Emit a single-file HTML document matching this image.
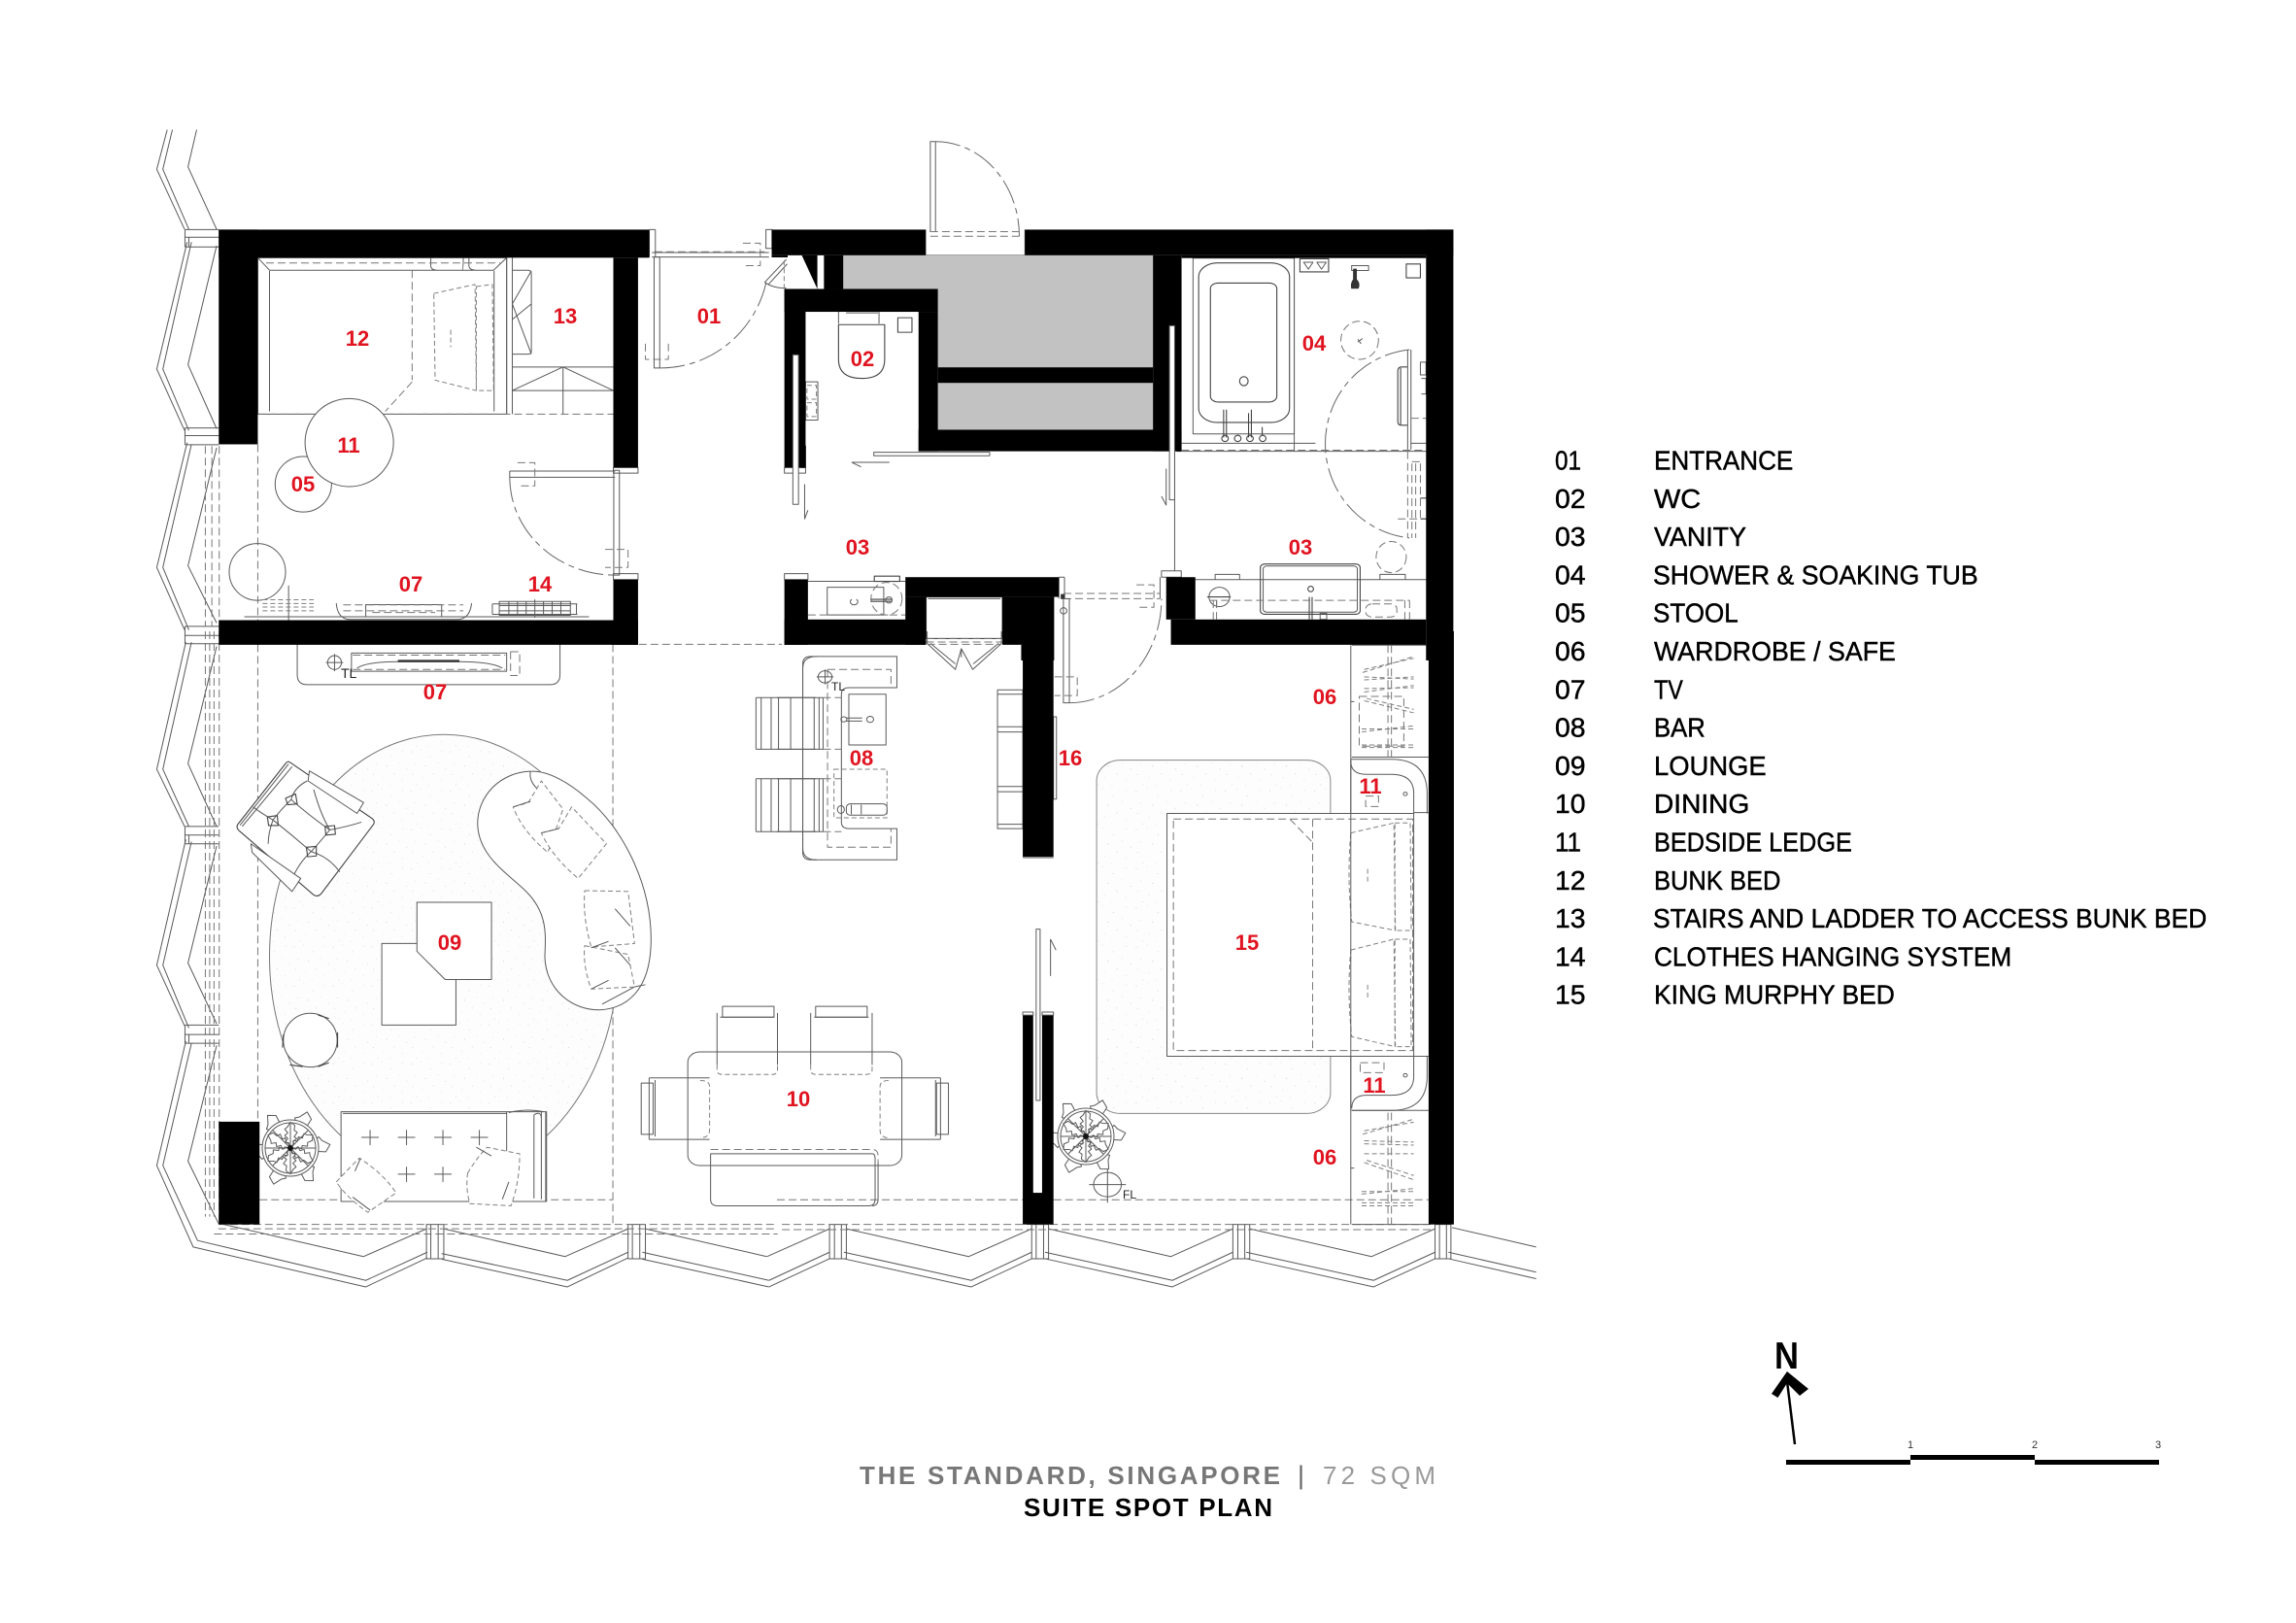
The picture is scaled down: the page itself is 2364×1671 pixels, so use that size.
<!DOCTYPE html>
<html><head><meta charset="utf-8"><title>Suite Spot Plan</title>
<style>
html,body{margin:0;padding:0;background:#fff}
svg{display:block}
svg *{vector-effect:non-scaling-stroke}
.l{fill:none;stroke:#5a5a5a;stroke-width:1;stroke-linejoin:round}
.t{stroke-width:1.1;stroke:#444}
.d{stroke-dasharray:8 4;stroke:#777}
.s{stroke-dasharray:5 3;stroke:#808080}
.a{stroke-dasharray:26 5 6 5;stroke:#666}
.w{fill:#fff}
.f{fill:#333;stroke:#333}
.k{fill:#000;stroke:none}
.g{fill:#c2c2c2;stroke:none}
.n{font:bold 22px "Liberation Sans",sans-serif;fill:#e01420;text-anchor:middle}
.lg{font:28px "Liberation Sans",sans-serif;fill:#000;stroke:#000;stroke-width:.45}
</style></head><body>
<svg width="2364" height="1671" viewBox="0 0 2364 1671" xmlns="http://www.w3.org/2000/svg">
<defs>
<pattern id="sp" width="90" height="90" patternUnits="userSpaceOnUse">
<rect width="90" height="90" fill="#fdfdfd"/>
<g fill="#cfcfcf"><circle cx="5" cy="8" r="1.1"/><circle cx="27" cy="3" r=".9"/><circle cx="49" cy="19" r="1.1"/><circle cx="75" cy="6" r=".9"/><circle cx="14" cy="36" r=".9"/><circle cx="38" cy="41" r="1.2"/><circle cx="67" cy="33" r=".9"/><circle cx="84" cy="48" r="1.1"/><circle cx="8" cy="60" r="1.1"/><circle cx="31" cy="68" r=".9"/><circle cx="56" cy="59" r="1.1"/><circle cx="74" cy="74" r=".9"/><circle cx="18" cy="84" r="1"/><circle cx="46" cy="85" r=".9"/></g>
</pattern>
<path id="leaf" d="M0 0L6-7 4-10 10-15 6-18 11-25 6-28 7-36 0-41-5-33-9-30-4-24-9-20-4-15-8-10-3-7Z"/>
<g id="plant">
<g class="l w"><use href="#leaf" transform="rotate(25)"/><use href="#leaf" transform="rotate(85)"/><use href="#leaf" transform="rotate(145)"/><use href="#leaf" transform="rotate(205)"/><use href="#leaf" transform="rotate(265)"/><use href="#leaf" transform="rotate(325)"/></g>
<circle r="29" class="l w"/><circle r="26" class="l"/>
<path class="l" d="M-26 0H26M0-26V26M-18-18L18 18M-18 18L18-18"/>
<g class="l" transform="scale(.65)"><use href="#leaf" transform="rotate(0)"/><use href="#leaf" transform="rotate(60)"/><use href="#leaf" transform="rotate(120)"/><use href="#leaf" transform="rotate(180)"/><use href="#leaf" transform="rotate(240)"/><use href="#leaf" transform="rotate(300)"/></g>
<circle r="3" fill="#111"/>
</g>
</defs>

<rect width="2364" height="1671" fill="#fff"/>

<!-- Z1 : bunk room / upper facade -->
<g transform="translate(140,120) scale(.4464,.3571)">
<g class="l">
<path d="M72 38L48 152 112 325M84 38L62 152 122 325M140 38L120 145 186 325"/>
<path d="M113 326H191M113 348H191M113 376H191M113 326V376M122 348V376"/>
<path d="M118 362L48 728 112 905M128 362L62 728 122 905M186 372L120 715 186 900"/>
<path d="M113 898H191M113 920H191M113 946H191M113 898V946"/>
<path d="M118 940L48 1300 112 1480M128 945L62 1300 122 1480M186 955L120 1295 186 1460"/>
<path d="M113 1470H191M113 1496H191M113 1520H191M113 1470V1520"/>
<path class="d" d="M160 950V1470M175 950V1470M192 950V1452M281 945V1452"/>
<rect x="281" y="407" width="574" height="451"/>
<path d="M308 445V850M308 443H825M826 445V850M855 407V858M868 407V858M281 407L308 443M855 407L825 443M680 407V430Q680 443 695 443M752 443Q755 443 755 407M768 407V430Q768 443 785 443"/>
<path class="d" d="M300 422H840M637 443V760M637 765L575 850M281 858H1101"/>
<path class="s" d="M687 510L782 484 785 790 690 760ZM785 490L822 484 825 790 785 790ZM726 615V665"/>
<path d="M868 443H905Q912 443 912 455V675Q912 685 905 685H868M912 445L868 540 912 685M868 585L912 540M868 722H1101M868 790H1101M985 722V858M868 790L985 722 1101 790"/>
<ellipse cx="386" cy="1060" rx="65" ry="80"/>
<ellipse cx="492" cy="940" rx="102" ry="127" class="w"/>
<ellipse cx="280" cy="1313" rx="65" ry="82"/>
<rect x="1195" y="405" width="13" height="320"/>
<path d="M1190 405H1460M1190 392H1460"/>
<path class="a" d="M1208 725A250 320 0 0 0 1455 470"/>
<path class="d" d="M1196 390H1450M1400 365H1440V430H1400M1175 655V700H1228V655"/>
<path d="M1184 326V405M1198 326V405M1184 326H1198M1453 326V380H1467V326ZM1450 478L1500 412M1458 485L1502 425M1450 478Q1470 495 1500 495"/>
<path class="s" d="M1495 415V495"/>
<path d="M862 1022H1105M862 1040H1105M862 1022V1040"/>
<rect x="1102" y="1020" width="13" height="302"/>
<path class="a" d="M862 1040A243 282 0 0 0 1105 1322"/>
<path class="d" d="M880 998H920V1065H880M1082 1248H1135V1300H1082"/>
<path d="M1101 1012H1158V1028H1101ZM1101 1318H1158V1335H1101Z"/>
<path d="M250 1442H1045"/>
<path d="M462 1403Q465 1450 495 1450H740Q770 1450 774 1403"/>
<rect x="530" y="1407" width="175" height="35"/>
<path class="d" d="M478 1408H755M478 1425H755M545 1430H690"/>
<path d="M352 1352V1452"/>
<path class="s" d="M292 1393H410M292 1404H410M292 1414H410M292 1425H410"/>
<rect x="838" y="1398" width="164" height="40"/>
<path d="M822 1405H1018M822 1435H1018M822 1405V1435M1016 1405V1435M838 1410H1002M838 1425H1002M860 1398V1438M880 1398V1438M900 1398V1438M920 1392V1445M940 1398V1438M960 1398V1438M980 1398V1438"/>
</g>
</g>

<!-- Z2 : WC, shafts, bathroom -->
<g transform="translate(780,120) scale(.4847,.3571)">
<g class="l">
<path class="a" d="M378 72A178 273 0 0 1 556 345"/>
<rect x="367" y="72" width="11" height="260"/>
<path d="M357 326V400M568 326V400M357 400H568"/>
<path class="d" d="M367 332H556M367 345H556"/>
<rect x="298" y="580" width="30" height="42" class="t"/>
<path class="t" d="M172 600H270V700Q270 755 222 755 172 755 172 700Z"/>
<path d="M172 563V597M258 563V597M188 566H256"/>
<rect x="102" y="765" width="26" height="110"/>
<path class="s" d="M105 775H125V815H105ZM105 825H125V865H105Z"/>
<rect x="247" y="968" width="246" height="10"/>
<path d="M200 997H280M200 997L220 1010M100 1060V1160L107 1135M57 1012H102V1028H57Z"/>
<path class="f" d="M92 950H102V1012H92Z"/>
<rect x="925" y="408" width="215" height="507"/>
<path d="M1140 408V965M900 408V965M900 942H1185M890 965H1420M1388 942H1420"/>
<path class="d" d="M900 962H1420"/>
<rect x="937" y="422" width="193" height="460" rx="40" class="t"/>
<rect x="962" y="480" width="141" height="343" rx="16" class="t"/>
<ellipse cx="1033" cy="763" rx="9" ry="13" class="t"/>
<path class="t" d="M990 845V925M996 845V925M1043 855V925M1049 845V925M1072 895V920"/>
<g class="t"><ellipse cx="993" cy="928" rx="7" ry="9"/><ellipse cx="1020" cy="928" rx="7" ry="9"/><ellipse cx="1046" cy="928" rx="7" ry="9"/><ellipse cx="1073" cy="928" rx="7" ry="9"/></g>
<rect x="1152" y="410" width="61" height="38" class="t"/>
<path d="M1160 420L1170 440 1180 420ZM1188 420L1198 440 1208 420Z"/>
<rect x="1262" y="430" width="36" height="14"/>
<path class="f" d="M1262 495Q1260 480 1266 470V440H1272V470Q1280 480 1276 495Z"/>
<rect x="1378" y="425" width="30" height="40" class="t"/>
<ellipse cx="1279" cy="645" rx="40" ry="55" class="d"/>
<path d="M1275 650L1285 640M1275 642L1282 655"/>
<path class="a" d="M1385 672A200 273 0 0 0 1385 1215"/>
<path d="M1381 672V960M1388 672V960"/>
<path class="t" d="M1380 722H1368Q1360 722 1360 735V880Q1360 890 1368 890H1380M1366 725V888"/>
<path d="M1408 708H1420V745H1408ZM1410 755H1420V800H1410"/>
<path class="d" d="M1388 870H1420M1381 965V1215M1390 1000V1215M1398 1000V1215M1408 1000V1160M1390 995H1408M1360 1160H1420"/>
<path class="t" d="M1408 1100H1420M1408 1160H1420"/>
<path d="M930 1335H1420M972 1320H1024V1335H972ZM1322 1320H1376V1335H1322Z"/>
<rect x="1068" y="1290" width="212" height="145" rx="10" class="t"/>
<rect x="1074" y="1296" width="200" height="133" rx="8"/>
<ellipse cx="1346" cy="1270" rx="32" ry="45" class="d"/>
<ellipse cx="981" cy="1385" rx="22" ry="28"/>
<path class="t" d="M955 1385H1005M975 1395V1410"/>
<ellipse cx="1175" cy="1362" rx="6" ry="8" class="t"/>
<path class="t" d="M1172 1385V1450M1178 1385V1450"/>
<path class="d" d="M960 1395H1385M968 1395V1450M975 1395V1450M1375 1395V1450M1385 1395V1450"/>
<rect x="1292" y="1405" width="66" height="38" rx="14" class="d"/>
<rect x="1195" y="1432" width="14" height="18"/>
<path d="M107 1340H314"/>
<rect x="148" y="1357" width="120" height="80"/>
<ellipse cx="274" cy="1390" rx="33" ry="47" class="d"/>
<path class="t" d="M240 1392H285M240 1398H285"/><ellipse cx="279" cy="1394" rx="7" ry="9"/>
<path d="M200 1392a8 9 0 1 0 10 0"/>
<rect x="248" y="1325" width="54" height="15" class="t"/>
<path class="d" d="M107 1437H314"/>
<path d="M57 1318H107V1335H57Z"/>
<rect x="358" y="1385" width="162" height="120" class="t"/>
<path d="M362 1390H516"/>
<path class="d" d="M358 1505H520M358 1515H520"/>
<path d="M640 1328V1390M652 1328V1390M640 1328H652"/>
<path class="d" d="M650 1375H855M650 1390H855M805 1350H842V1415H805"/>
<path class="f" d="M645 1378H652V1390H645Z"/>
<ellipse cx="650" cy="1425" rx="7" ry="9"/>
<path d="M858 1310H900V1328H858ZM855 1328V1390M886 965V1310M868 1015V1120L858 1095M860 960H900"/>
</g>
</g>

<!-- Z3 : lounge -->
<g transform="translate(140,650) scale(.4464)">
<ellipse cx="710" cy="750" rx="402" ry="512" fill="url(#sp)" stroke="#777"/>
<g class="l">
<path d="M115 25L48 318 112 450M128 25L62 318 122 450M186 35L120 305 186 450"/>
<path d="M113 450H191M113 470H191M113 490H191M113 450V490M122 470V490"/>
<path d="M115 480L48 770 112 910M128 485L62 770 122 915M186 495L120 765 186 905"/>
<path d="M113 908H191M113 930H191M113 950H191M113 908V950M122 930V950"/>
<path d="M115 945L48 1232 132 1420 530 1512 672 1445M128 950L62 1232 142 1405 530 1497 672 1432M186 955L120 1222 190 1365 525 1442 670 1378"/>
<path d="M670 1368H710V1447H670ZM680 1368V1447M697 1368V1447"/>
<path d="M705 1435L995 1497 1135 1432M705 1448L995 1512 1135 1445M710 1378L990 1442 1135 1378"/>
<path d="M1135 1368H1175V1447H1135ZM1145 1368V1447M1162 1368V1447"/>
<path d="M1168 1432L1460 1497M1168 1448L1460 1512M1175 1378L1455 1442"/>
<path class="d" d="M160 0V1350M170 0V1350M180 0V1350M192 0V1365M281 30V1131M1100 30V1370M1160 30H1490M285 1311H1100M190 1368H1480M190 1378H1480M180 1390H1480"/>
<path d="M372 30V100Q372 123 395 123H955Q978 123 978 100V30"/>
<rect x="497" y="50" width="358" height="42"/>
<path class="d" d="M500 55H852M500 88H852M864 47H885V102H864Z"/>
<path d="M510 85Q530 70 610 70H745Q820 70 845 85"/>
<path class="f" d="M605 67H745V70H605Z"/>
<circle cx="458" cy="72" r="16"/><path d="M438 72H478M458 52V92"/>
<path d="M1430 153H1568M1430 272H1568M1430 340H1568M1430 462H1568M1430 153V272M1430 340V462M1442 153V272M1442 340V462M1465 153V272M1482 153V272M1510 153V272M1465 340V462M1482 340V462M1510 340V462"/>
<path d="M1570 58Q1538 58 1538 85V500Q1538 527 1570 527"/>
<path class="w t" d="M355 302Q350 298 345 305L235 445Q230 452 238 460L410 608Q420 614 428 604L548 445Q552 438 545 432Z"/>
<path d="M360 312L245 450M352 306L240 447"/>
<path class="w" d="M400 322L525 395 510 420 397 345Z"/>
<path class="w" d="M265 490L380 570 360 600 268 510Z"/>
<path d="M358 388Q400 425 447 458M316 435Q360 470 404 508M358 388Q335 410 316 435M447 458Q425 485 404 508M358 388Q365 360 395 345M447 458Q425 420 410 365M447 458Q490 450 520 440M404 508Q445 520 470 555M404 508Q380 530 365 560M316 435Q290 420 270 405M316 435Q305 465 305 490"/>
<path class="t" d="M345 385L368 375 372 398 350 400ZM303 428L326 425 328 448 306 448ZM436 450L458 448 460 468 438 470ZM393 498L416 496 416 518 396 520Z"/>
<path class="w" d="M910 323C840 325 787 380 788 445C790 520 860 560 900 600C950 650 945 700 943 750C945 830 1010 875 1070 873C1130 870 1188 830 1188 710C1188 580 1120 450 1040 385C1000 350 950 320 910 323Z"/>
<path d="M910 323Q905 350 935 370M1175 815L1150 820M1075 860L1150 820"/>
<path class="s w" d="M870 405L905 395 935 345 985 410 950 510Q890 460 870 405Z"/>
<path class="s w" d="M935 465L975 455 1005 405 1085 490 1020 570Q960 520 935 465Z"/>
<path class="s w" d="M1035 598L1135 600 1150 720 1050 728Q1030 660 1035 598Z"/>
<path class="s w" d="M1035 725L1135 745 1150 820 1050 825Q1030 770 1035 725Z"/>
<path d="M870 405L910 392M935 465L975 455M1105 640L1140 680M1050 730L1090 715M1050 825L1090 805M1105 730L1140 770"/>
<rect x="567" y="720" width="171" height="188" class="w"/>
<path class="w" d="M648 625H820V803H713L648 738Z"/>
<circle cx="402" cy="943" r="62" class="w"/>
<path class="t" d="M340 930L338 960M355 1000L385 1004M420 1004L445 995M465 960L465 925M420 885L445 893"/>
<rect x="473" y="1108" width="474" height="207" class="w"/>
<path d="M855 1108V1315M477 1112H855M935 1108V1310M918 1115V1308M918 1115Q935 1105 935 1125M945 1108V1315M860 1110Q900 1100 940 1108"/>
<path d="M520 1167H560M540 1150V1185M604 1167H644M624 1150V1185M688 1167H728M708 1150V1185M772 1167H812M792 1150V1185M604 1252H644M624 1235V1270M688 1252H728M708 1235V1270"/>
<path class="s w" d="M462 1270Q490 1240 515 1215Q570 1250 600 1295L535 1340Q490 1310 462 1270Z"/>
<path class="s w" d="M765 1250Q785 1215 810 1190L885 1205Q885 1270 865 1325L770 1320Q760 1285 765 1250Z"/>
<path d="M505 1245L518 1215M785 1190L820 1210M845 1310L860 1270M500 1305L540 1335"/>
</g>
</g>

<!-- Z4 : bar, bed, wardrobes, dining -->
<g transform="translate(800,650) scale(.5102,.4464)">
<g class="l">
<path d="M-16 1497L106 1432M-16 1512L106 1447M-20 1442L106 1378"/>
<path d="M106 1368H140V1447H106ZM116 1368V1447M130 1368V1447"/>
<path d="M135 1432L392 1497 514 1432M135 1447L392 1512 514 1447M140 1378L387 1442 514 1378"/>
<path d="M514 1368H548V1447H514ZM523 1368V1447M538 1368V1447"/>
<path d="M541 1432L798 1497 920 1432M541 1447L798 1512 920 1447M548 1378L795 1442 920 1378"/>
<path d="M920 1368H954V1447H920ZM930 1368V1447M944 1368V1447"/>
<path d="M947 1432L1204 1497 1328 1432M947 1447L1204 1512 1328 1447M954 1378L1200 1442 1328 1378"/>
<path d="M1328 1368H1360V1447H1328ZM1337 1368V1447M1351 1368V1447"/>
<path d="M1362 1375L1532 1420M1355 1432L1532 1478M1355 1447L1532 1493"/>
<path class="d" d="M10 1368H1328M10 1380H1328M0 1311H496M558 1311H1315"/>
<path d="M303 0V28L360 88 372 40 395 88 453 28V0"/>
<path d="M310 28L360 75M447 28L396 75M372 40V60"/>
<path class="d" d="M303 30H453"/>
<rect x="578" y="-75" width="12" height="240"/>
<path class="a" d="M590 165A186 240 0 0 0 776 -75"/>
<path class="d" d="M560 105H606V148H560"/>
<path d="M242 58H68Q52 58 52 75V510Q52 527 68 527H242V455H145Q130 455 130 440V145Q130 130 145 130H242Z"/>
<path class="d" d="M102 88H230V130M102 88V498H230V455"/>
<rect x="145" y="145" width="75" height="117"/>
<circle cx="135" cy="203" r="6"/><circle cx="188" cy="203" r="7"/>
<path d="M140 200H172M140 207H172"/>
<rect x="115" y="318" width="107" height="112" class="s"/>
<rect x="140" y="398" width="82" height="26" rx="8"/>
<ellipse cx="129" cy="411" rx="7" ry="9"/>
<path d="M150 400V422M170 400V422"/>
<circle cx="97" cy="105" r="14"/><path d="M80 105H114M97 88V122"/>
<path d="M0 153H93M0 272H93M0 340H93M0 462H93M93 153V272M93 340V462M75 153V272M75 340V462M85 153V272M85 340V462"/>
<path class="d" d="M93 153H130M93 272H130M93 340H130M93 462H130"/>
<rect x="445" y="135" width="51" height="320"/>
<path d="M445 145H496M445 220H496M445 232H496M445 358H496M445 370H496M445 445H496"/>
<rect x="558" y="197" width="6" height="190"/>
<path d="M552 710V795M552 710L563 735M496 522H558"/>

<rect x="645" y="297" width="472" height="815" rx="48" fill="url(#sp)" stroke="#888"/>
<rect x="787" y="420" width="498" height="560" class="w"/>
<path class="d" d="M800 433H1283V967H800ZM1081 433V967M1035 433L1081 487"/>
<path class="s w" d="M1158 465L1245 442 1248 690 1160 670Q1150 570 1158 465Z"/>
<path class="s" d="M1247 442H1278L1280 690H1247ZM1192 548V582"/>
<path class="s w" d="M1158 735L1245 710 1248 958 1160 935Q1150 835 1158 735Z"/>
<path class="s" d="M1247 710H1278L1280 958H1247ZM1192 815V850"/>

<path d="M1158 32V1368M1160 32H1315M1160 290H1315M1160 1105H1315M1160 1368H1315"/>
<path class="s" d="M1182 95L1285 58M1185 88L1285 62M1185 112L1285 105M1185 105L1285 110M1185 140L1285 125M1185 132L1285 130M1185 160L1285 188M1190 155L1285 180M1180 232L1285 218M1180 225L1285 225M1180 262L1285 262M1180 268H1285"/>
<path class="s" d="M1182 1160L1285 1125M1185 1152L1285 1132M1185 1175L1285 1178M1185 1182L1285 1185M1185 1205L1285 1205M1185 1225L1285 1265M1190 1220L1285 1255M1180 1298L1285 1285M1180 1292L1285 1292M1180 1325H1285M1180 1318H1285"/>
<path class="d" d="M1233 32V290M1240 32V290M1233 1110V1368M1240 1110V1368M1175 150H1265V265H1175Z"/>
<path d="M1158 162H1165M1158 1238H1165"/>
<path d="M1158 295H1240Q1310 295 1312 370V420M1158 300Q1158 330 1190 330H1240Q1283 330 1285 370V420"/>
<path d="M1158 295V420M1160 1105H1240Q1310 1105 1312 1030V980M1160 1100Q1160 1070 1190 1070H1240Q1283 1070 1285 1030V980M1158 980V1105"/>
<path d="M1285 418H1315M1285 980H1315"/>
<circle cx="1268" cy="375" r="4"/><circle cx="1268" cy="1024" r="4"/>
<path class="d" d="M1188 380H1214V404H1188ZM1177 995H1225V1018H1177Z"/>
<circle cx="667" cy="1276" r="28"/><path d="M630 1276H704M667 1235V1318"/>

<rect x="-180" y="970" width="432" height="262" rx="24"/>
<path d="M68 880V1000M192 880V1000M75 890H185M-121 880V1000M1 880V1000M-115 890H-5M208 1030H330M208 1172H330M330 1030V1172M320 1035V1165"/>
<rect x="78" y="865" width="104" height="25"/>
<rect x="-110" y="865" width="104" height="25"/>
<path class="s" d="M68 1000V1012Q68 1022 80 1022H180Q192 1022 192 1012V1000M-121 1000V1012Q-121 1022 -110 1022H-10Q1 1022 1 1012V1000M225 1036Q208 1036 208 1050V1150Q208 1168 225 1168"/>
<rect x="322" y="1042" width="24" height="118"/>
<path d="M-136 1030H-258M-136 1172H-258M-258 1030V1172M-246 1035V1165"/>
<rect x="-274" y="1042" width="24" height="118"/>
<path class="s" d="M-155 1036Q-136 1036 -136 1050V1150Q-136 1168 -155 1168"/>
<path class="d" d="M-134 1195H192Q204 1195 204 1210V1225"/>
<path d="M-134 1205H192Q198 1205 198 1215V1310Q198 1325 185 1325H-120Q-134 1325 -134 1310V1205ZM204 1225V1310Q204 1325 192 1325"/>
</g>
</g>

<use href="#plant" transform="translate(299,1182)"/>
<use href="#plant" transform="translate(1118,1170)"/>

<!-- WALLS -->
<g transform="translate(140,120) scale(.4464,.3571)" class="k">
<rect x="191" y="326" width="993" height="81"/>
<rect x="191" y="326" width="90" height="619"/>
<rect x="1101" y="407" width="57" height="605"/>
<rect x="1101" y="1335" width="57" height="188"/>
<rect x="191" y="1452" width="967" height="71"/>
</g>
<g transform="translate(780,120) scale(.4847,.3571)">
<path class="g" d="M182 400H840V723H383V497H182Z"/>
<rect x="383" y="768" width="457" height="135" class="g"/>
<g class="k">
<rect x="30" y="326" width="327" height="74"/>
<rect x="30" y="400" width="34" height="6"/>
<rect x="141" y="400" width="41" height="97"/>
<path d="M94 400L127 497V400Z"/>
<rect x="57" y="497" width="326" height="66"/>
<rect x="57" y="497" width="45" height="515"/>
<rect x="342" y="563" width="41" height="402"/>
<rect x="342" y="903" width="558" height="62"/>
<rect x="383" y="723" width="457" height="45"/>
<rect x="568" y="326" width="910" height="74"/>
<rect x="840" y="400" width="60" height="565"/>
<rect x="900" y="400" width="520" height="8"/>
<rect x="1420" y="326" width="58" height="1242"/>
<rect x="57" y="1335" width="50" height="188"/>
<rect x="57" y="1450" width="300" height="73"/>
<rect x="314" y="1328" width="326" height="57"/>
<rect x="314" y="1385" width="44" height="138"/>
<rect x="520" y="1385" width="110" height="138"/>
<rect x="560" y="1523" width="70" height="45"/>
<rect x="868" y="1328" width="62" height="122"/>
<rect x="878" y="1450" width="542" height="73"/>
</g>
<g class="l">
<rect x="75" y="687" width="12" height="431" fill="#fff"/>
<rect x="875" y="603" width="11" height="502" fill="#fff"/>
</g>
</g>
<g transform="translate(140,650) scale(.4464)" class="k">
<rect x="191" y="1131" width="94" height="237"/>
</g>
<g transform="translate(800,650) scale(.5102,.4464)">
<g class="k">
<rect x="496" y="0" width="62" height="520"/>
<rect x="496" y="885" width="62" height="483"/>
<rect x="1315" y="0" width="51" height="1368"/>
</g>
<rect x="517" y="885" width="18" height="410" fill="#fff"/>
<g class="l">
<path d="M496 878H517V885H496ZM535 878H558V885H535Z"/>
<rect x="523" y="687" width="8" height="395" fill="#fff"/>
</g>
</g>

<!-- ROOM NUMBERS -->
<g>
<text class="n" x="730" y="333">01</text>
<text class="n" x="368" y="356">12</text>
<text class="n" x="582" y="333">13</text>
<text class="n" x="359" y="466">11</text>
<text class="n" x="312" y="506">05</text>
<text class="n" x="423" y="609">07</text>
<text class="n" x="556" y="609">14</text>
<text class="n" x="888" y="377">02</text>
<text class="n" x="1353" y="361">04</text>
<text class="n" x="883" y="571">03</text>
<text class="n" x="1339" y="571">03</text>
<text class="n" x="448" y="720">07</text>
<text class="n" x="463" y="978">09</text>
<text class="n" x="822" y="1139">10</text>
<text class="n" x="887" y="788">08</text>
<text class="n" x="1102" y="788">16</text>
<text class="n" x="1364" y="725">06</text>
<text class="n" x="1411" y="817">11</text>
<text class="n" x="1284" y="978">15</text>
<text class="n" x="1415" y="1125">11</text>
<text class="n" x="1364" y="1199">06</text>
</g>
<g font-family="Liberation Sans,sans-serif" fill="#222">
<text x="351" y="698" font-size="14">TL</text>
<text x="856" y="711" font-size="12">TL</text>
<text x="1156" y="1234" font-size="12">FL</text>
</g>

<!-- LEGEND -->
<g class="lg">
<text x="1601" y="483.5" textLength="27" lengthAdjust="spacingAndGlyphs">01</text><text x="1703" y="483.5" textLength="143.3" lengthAdjust="spacingAndGlyphs">ENTRANCE</text>
<text x="1601" y="522.8" textLength="31.5" lengthAdjust="spacingAndGlyphs">02</text><text x="1703" y="522.8" textLength="48.2" lengthAdjust="spacingAndGlyphs">WC</text>
<text x="1601" y="562.1" textLength="31.5" lengthAdjust="spacingAndGlyphs">03</text><text x="1703" y="562.1" textLength="95" lengthAdjust="spacingAndGlyphs">VANITY</text>
<text x="1601" y="601.4" textLength="31.5" lengthAdjust="spacingAndGlyphs">04</text><text x="1702" y="601.4" textLength="334.7" lengthAdjust="spacingAndGlyphs">SHOWER &amp; SOAKING TUB</text>
<text x="1601" y="640.7" textLength="31.5" lengthAdjust="spacingAndGlyphs">05</text><text x="1702" y="640.7" textLength="87.7" lengthAdjust="spacingAndGlyphs">STOOL</text>
<text x="1601" y="680" textLength="31.5" lengthAdjust="spacingAndGlyphs">06</text><text x="1703" y="680" textLength="248.9" lengthAdjust="spacingAndGlyphs">WARDROBE / SAFE</text>
<text x="1601" y="719.3" textLength="31.5" lengthAdjust="spacingAndGlyphs">07</text><text x="1703" y="719.3" textLength="29.8" lengthAdjust="spacingAndGlyphs">TV</text>
<text x="1601" y="758.6" textLength="31.5" lengthAdjust="spacingAndGlyphs">08</text><text x="1703" y="758.6" textLength="52.8" lengthAdjust="spacingAndGlyphs">BAR</text>
<text x="1601" y="797.9" textLength="31.5" lengthAdjust="spacingAndGlyphs">09</text><text x="1703" y="797.9" textLength="115.7" lengthAdjust="spacingAndGlyphs">LOUNGE</text>
<text x="1601" y="837.2" textLength="31.5" lengthAdjust="spacingAndGlyphs">10</text><text x="1703" y="837.2" textLength="98.3" lengthAdjust="spacingAndGlyphs">DINING</text>
<text x="1601" y="876.5" textLength="27" lengthAdjust="spacingAndGlyphs">11</text><text x="1703" y="876.5" textLength="203.9" lengthAdjust="spacingAndGlyphs">BEDSIDE LEDGE</text>
<text x="1601" y="915.8" textLength="31.5" lengthAdjust="spacingAndGlyphs">12</text><text x="1703" y="915.8" textLength="130.4" lengthAdjust="spacingAndGlyphs">BUNK BED</text>
<text x="1601" y="955.1" textLength="31.5" lengthAdjust="spacingAndGlyphs">13</text><text x="1702" y="955.1" textLength="570.2" lengthAdjust="spacingAndGlyphs">STAIRS AND LADDER TO ACCESS BUNK BED</text>
<text x="1601" y="994.4" textLength="31.5" lengthAdjust="spacingAndGlyphs">14</text><text x="1703" y="994.4" textLength="368.2" lengthAdjust="spacingAndGlyphs">CLOTHES HANGING SYSTEM</text>
<text x="1601" y="1033.7" textLength="31.5" lengthAdjust="spacingAndGlyphs">15</text><text x="1703" y="1033.7" textLength="247.9" lengthAdjust="spacingAndGlyphs">KING MURPHY BED</text>
</g>

<!-- TITLE -->
<g font-family="Liberation Sans,sans-serif" font-size="26">
<text x="885" y="1528" textLength="433" lengthAdjust="spacing" font-weight="bold" fill="#777">THE STANDARD, SINGAPORE</text>
<text x="1336" y="1528" fill="#666" font-size="27">|</text>
<text x="1362" y="1528" textLength="116" lengthAdjust="spacing" fill="#999">72 SQM</text>
<text x="1054" y="1561" textLength="256" lengthAdjust="spacing" font-weight="bold" fill="#000">SUITE SPOT PLAN</text>
</g>

<!-- NORTH + SCALE -->
<text x="1827" y="1409" font-family="Liberation Sans,sans-serif" font-weight="bold" font-size="39" textLength="25" lengthAdjust="spacingAndGlyphs">N</text>
<path d="M1848 1487L1840 1422" stroke="#000" stroke-width="2.5" fill="none"/>
<path d="M1840 1412L1824 1435 1830.5 1439 1840 1424 1853 1437 1862 1430Z" fill="#000"/>
<rect x="1839" y="1503" width="128" height="5" fill="#000"/>
<rect x="1967" y="1498" width="128" height="5" fill="#000"/>
<rect x="2095" y="1503" width="128" height="5" fill="#000"/>
<g font-family="Liberation Sans,sans-serif" font-size="11" fill="#333" text-anchor="middle">
<text x="1967" y="1491">1</text><text x="2095" y="1491">2</text><text x="2222" y="1491">3</text>
</g>
</svg>
</body></html>
